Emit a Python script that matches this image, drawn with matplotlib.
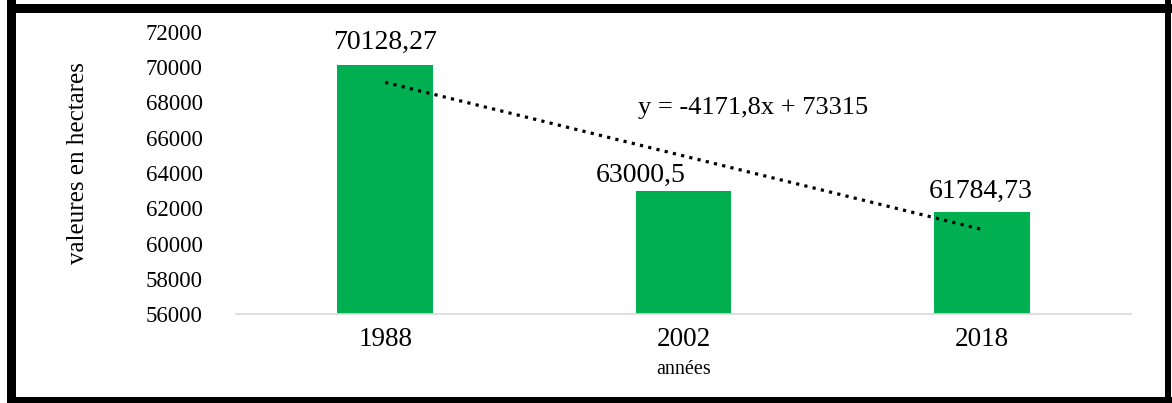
# plot.py
# bar chart of surface (hectares) per year, with a linear trendline

import numpy as np
import matplotlib.pyplot as plt
from matplotlib.patches import Rectangle

# data
years = ["1988", "2002", "2018"]
values = [70128.27, 63000.5, 61784.73]
value_labels = ["70128,27", "63000,5", "61784,73"]
y_ticks = [56000, 58000, 60000, 62000, 64000, 66000, 68000, 70000, 72000]
equation = "y = -4171,8x + 73315"

GREEN = "#00B050"
FONT = "Liberation Serif"

plt.rcParams['font.family'] = [FONT, 'DejaVu Serif']

fig = plt.figure(figsize=(11.72, 4.03), dpi=100)
ax = fig.add_axes([236/1172, 89/403, 895/1172, 282/403])

x = np.arange(len(years))
ax.bar(x, values, width=0.32, color=GREEN, zorder=2)

# linear trendline (excel style, x = 1..n)
xs = np.arange(1, len(values) + 1)
slope, intercept = np.polyfit(xs, values, 1)
ax.plot(x, slope*xs + intercept, color="black", linestyle=":",
        linewidth=2.3, zorder=3)
ax.text(0.578, 0.730, equation, transform=ax.transAxes, ha="center",
        va="center", fontsize=19)

# value labels (offsets in points, as placed in the original)
offsets = [(0, 16), (-31, 11), (-1, 15)]
for xi, v, lab, off in zip(x, values, value_labels, offsets):
    ax.annotate(lab, (xi, v), xytext=off, textcoords="offset points",
                ha="center", va="center", fontsize=20)

# axes
ax.set_xlim(-0.5, 2.5)
ax.set_ylim(56000, 72000)
ax.set_xticks(x)
ax.set_xticklabels(years, fontsize=19.5)
ax.set_yticks(y_ticks)
ax.set_yticklabels([str(t) for t in y_ticks], fontsize=16.5)
ax.tick_params(axis="y", length=0, pad=24)
ax.tick_params(axis="x", length=0, pad=9)
for side in ["top", "right", "left"]:
    ax.spines[side].set_visible(False)
ax.spines["bottom"].set_color("#D9D9D9")
ax.spines["bottom"].set_linewidth(1.2)

ax.set_xlabel("années", fontsize=14.5, labelpad=6)
ax.set_ylabel("valeures en hectares", fontsize=18)
ax.yaxis.set_label_coords(-0.164, 0.535)

# black frame around the picture
W, H = 1172, 403
for (x0, y0, w, h) in [(7, 0, 9, H), (7, 4, W - 7, 9),
                       (1165, 0, 6, H), (7, 397, W - 7, 6)]:
    fig.add_artist(Rectangle((x0/W, 1 - (y0 + h)/H), w/W, h/H,
                             transform=fig.transFigure, color="black",
                             linewidth=0))

fig.savefig("out.png", dpi=100)
